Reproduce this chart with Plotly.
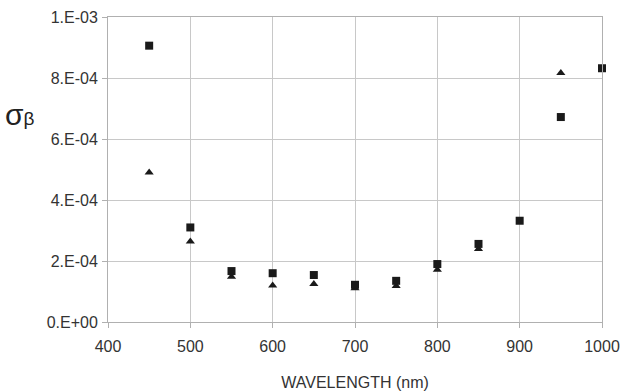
import plotly.graph_objects as go

wl_sq = [450, 500, 550, 600, 650, 700, 750, 800, 850, 900, 950, 1000]
sig_sq = [9.06e-4, 3.10e-4, 1.67e-4, 1.60e-4, 1.54e-4, 1.22e-4, 1.35e-4, 1.90e-4, 2.56e-4, 3.32e-4, 6.72e-4, 8.32e-4]

wl_tri = [450, 500, 550, 600, 650, 700, 750, 800, 850, 950]
sig_tri = [4.90e-4, 2.64e-4, 1.48e-4, 1.20e-4, 1.25e-4, 1.11e-4, 1.18e-4, 1.71e-4, 2.39e-4, 8.16e-4]

y_ticks = [0, 2e-4, 4e-4, 6e-4, 8e-4, 1e-3]
y_ticktext = ["0.E+00", "2.E-04", "4.E-04", "6.E-04", "8.E-04", "1.E-03"]
x_ticks = [400, 500, 600, 700, 800, 900, 1000]

fig = go.Figure()
fig.add_trace(go.Scatter(x=wl_tri, y=sig_tri, mode="markers",
                         marker=dict(symbol="triangle-up", size=8, color="#1a1a1a"), cliponaxis=False))
fig.add_trace(go.Scatter(x=wl_sq, y=sig_sq, mode="markers",
                         marker=dict(symbol="square", size=8, color="#1a1a1a"), cliponaxis=False))

font = dict(family="Liberation Sans, Arial, sans-serif", size=16, color="#333")
fig.update_layout(
    width=635, height=392,
    margin=dict(l=108, r=33, t=17, b=70),
    paper_bgcolor="white", plot_bgcolor="white",
    showlegend=False,
    font=font,
    xaxis=dict(range=[400, 1000], tickvals=x_ticks, showgrid=True, gridcolor="#c8c8c8",
               showline=True, linecolor="#b0b0b0", mirror=True, ticks="outside", ticklen=5,
               tickcolor="#b0b0b0", zeroline=False, ticklabelstandoff=5, automargin=False,
               title=dict(text="WAVELENGTH (nm)", font=dict(size=16, color="#333"), standoff=22)),
    yaxis=dict(range=[0, 1e-3], tickvals=y_ticks, ticktext=y_ticktext, showgrid=True,
               gridcolor="#c8c8c8", showline=True, linecolor="#b0b0b0", mirror=True,
               ticks="outside", ticklen=5, tickcolor="#b0b0b0", zeroline=False,
               ticklabelstandoff=1, automargin=False),
)
fig.add_annotation(text="<span style='font-size:30px'>σ</span><span style='font-size:19px'>β</span>",
                   xref="paper", yref="paper", x=-0.178, y=0.68, showarrow=False,
                   xanchor="center", yanchor="middle",
                   font=dict(family="Liberation Sans, Arial, sans-serif", color="#222"))
fig.write_html("out.html", config={"displayModeBar": False},
               post_script="document.body.style.margin='0';")
